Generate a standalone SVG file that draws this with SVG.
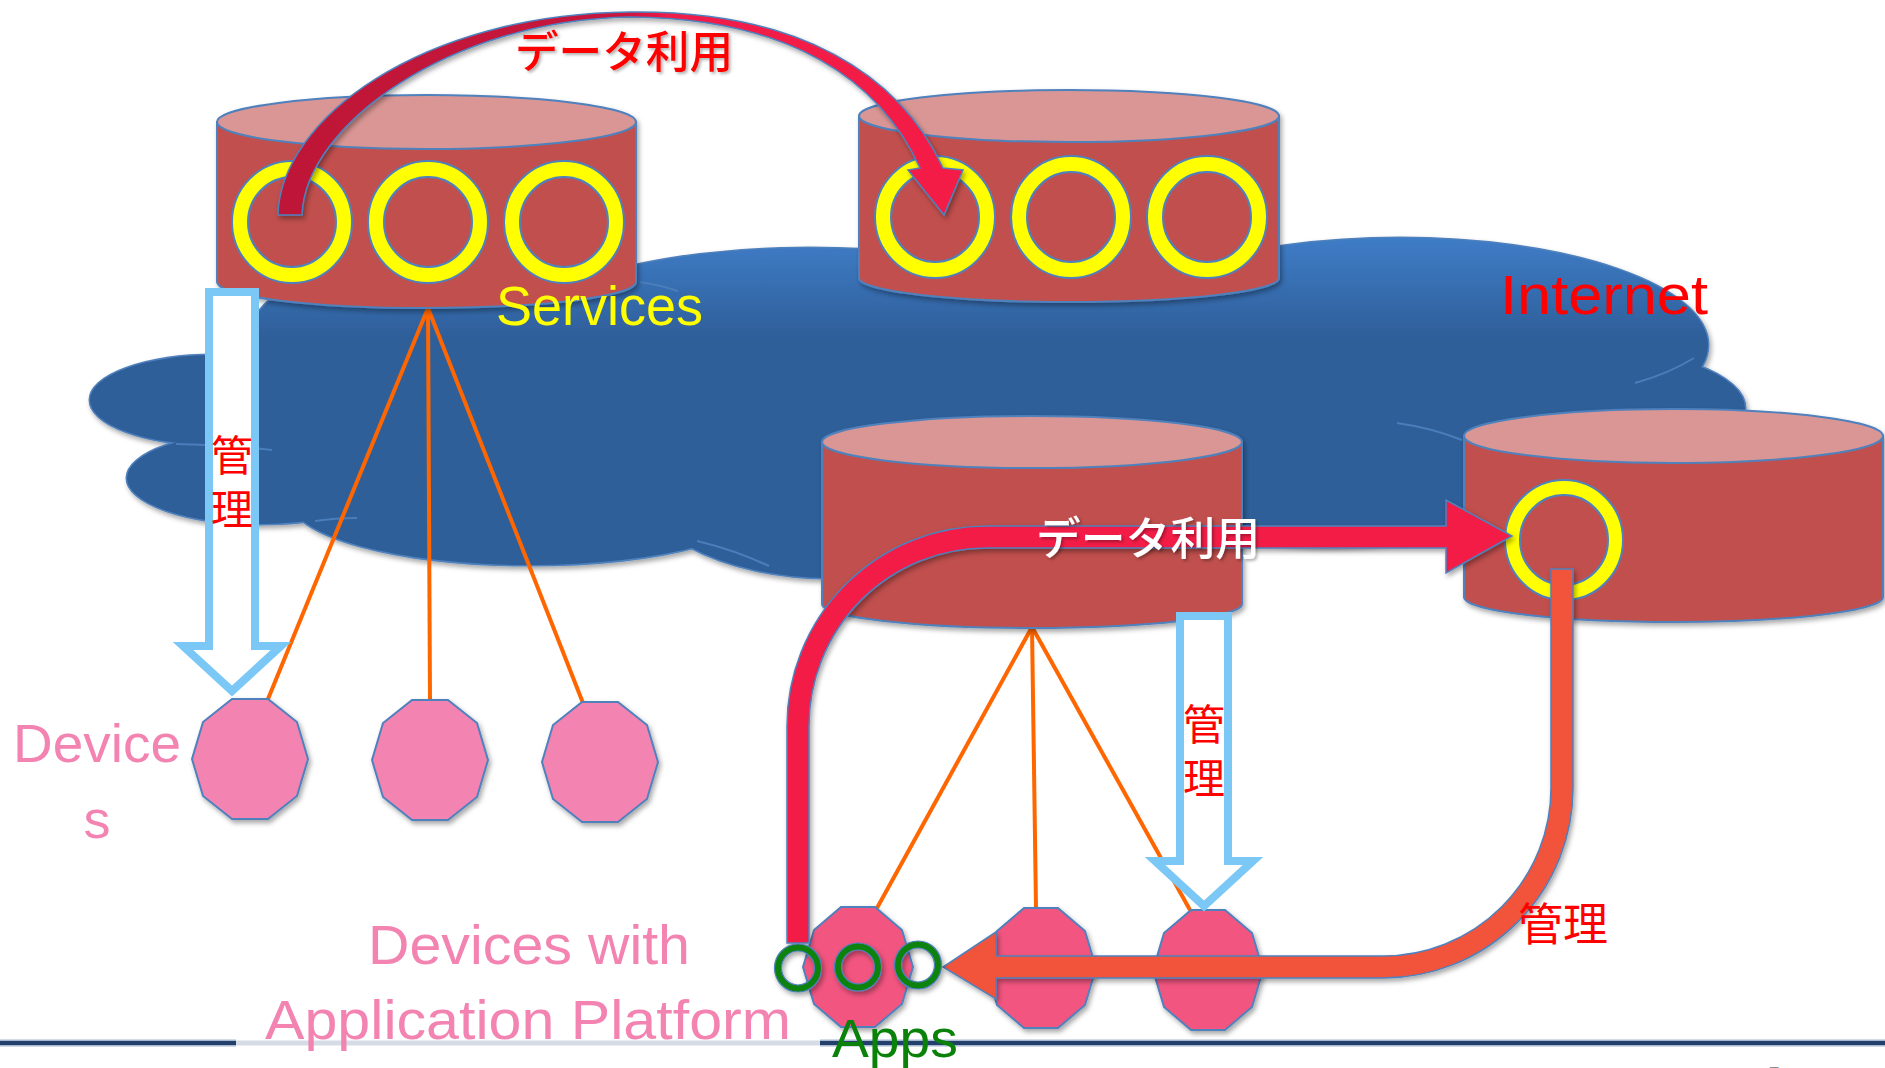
<svg xmlns="http://www.w3.org/2000/svg" width="1885" height="1068" viewBox="0 0 1885 1068">
<defs>
  <style>
    .cl-out{fill:none;stroke:#4F81BD;stroke-width:3}
    .cl-in{fill:url(#cloudGrad);stroke:none}
    .cl-seam{fill:none;stroke:#4A7EBB;stroke-width:2}
    .body{fill:#C0504D;stroke:#4F81BD;stroke-width:2}
    .top{fill:#D99694;stroke:#4F81BD;stroke-width:2}
    .ring{fill:#FFFF00;fill-rule:evenodd;stroke:#4F81BD;stroke-width:2}
    .gring{fill:#0A820A;fill-rule:evenodd;stroke:#4F81BD;stroke-width:1.2}
    .dev{fill:#F383B1;stroke:#4F81BD;stroke-width:2}
    .devp{fill:#F25580;stroke:#4F81BD;stroke-width:2}
    .ol{stroke:#FF6600;stroke-width:4;fill:none}
    .lb{fill:#FFFFFF;stroke:#7BC8F6;stroke-width:8;stroke-linejoin:miter}
    .lat{font-family:"Liberation Sans","Noto Sans",sans-serif}
    .jp{font-family:"Noto Sans CJK JP","Noto Sans CJK SC",sans-serif}
    .vt{writing-mode:vertical-rl;letter-spacing:12px}
  </style>
  <linearGradient id="cloudGrad" x1="0" y1="235" x2="0" y2="340" gradientUnits="userSpaceOnUse">
    <stop offset="0" stop-color="#3F7DC8"/>
    <stop offset="1" stop-color="#2E5E99"/>
  </linearGradient>
  <linearGradient id="arcGrad" x1="278" y1="0" x2="963" y2="0" gradientUnits="userSpaceOnUse">
    <stop offset="0" stop-color="#BE1238"/>
    <stop offset="0.5" stop-color="#C8153C"/>
    <stop offset="0.57" stop-color="#F01A48"/>
    <stop offset="1" stop-color="#F41B46"/>
  </linearGradient>
  <filter id="sh" x="-20%" y="-20%" width="140%" height="140%">
    <feDropShadow dx="2" dy="3" stdDeviation="2.5" flood-color="#000" flood-opacity="0.35"/>
  </filter>
  <filter id="tsh" x="-10%" y="-20%" width="120%" height="140%">
    <feDropShadow dx="2" dy="2" stdDeviation="1.5" flood-color="#000" flood-opacity="0.3"/>
  </filter>
  <polygon id="dec1" points="-18,-60 18,-60 47,-37 58,0 47,37 18,60 -18,60 -47,37 -58,0 -47,-37"/>
  <polygon id="dec2" points="-17,-60 17,-60 44,-37 55,0 44,37 17,60 -17,60 -44,37 -55,0 -44,-37"/>
</defs>

<rect width="1885" height="1068" fill="#FFFFFF"/>

<!-- Internet cloud -->
<g id="internet" filter="url(#sh)">
  <g class="cl-out">
    <ellipse cx="215" cy="400" rx="125" ry="45"/>
    <ellipse cx="260" cy="478" rx="133" ry="46"/>
    <ellipse cx="450" cy="335" rx="200" ry="80"/>
    <ellipse cx="530" cy="500" rx="240" ry="65"/>
    <ellipse cx="700" cy="400" rx="420" ry="130"/>
    <ellipse cx="830" cy="470" rx="200" ry="108"/>
    <ellipse cx="810" cy="340" rx="300" ry="92"/>
    <ellipse cx="1100" cy="385" rx="200" ry="112"/>
    <ellipse cx="1400" cy="345" rx="308" ry="107"/>
    <ellipse cx="1570" cy="408" rx="175" ry="62"/>
    <ellipse cx="1330" cy="460" rx="200" ry="85"/>
  </g>
  <g class="cl-in">
    <ellipse cx="215" cy="400" rx="125" ry="45"/>
    <ellipse cx="260" cy="478" rx="133" ry="46"/>
    <ellipse cx="450" cy="335" rx="200" ry="80"/>
    <ellipse cx="530" cy="500" rx="240" ry="65"/>
    <ellipse cx="700" cy="400" rx="420" ry="130"/>
    <ellipse cx="830" cy="470" rx="200" ry="108"/>
    <ellipse cx="810" cy="340" rx="300" ry="92"/>
    <ellipse cx="1100" cy="385" rx="200" ry="112"/>
    <ellipse cx="1400" cy="345" rx="308" ry="107"/>
    <ellipse cx="1570" cy="408" rx="175" ry="62"/>
    <ellipse cx="1330" cy="460" rx="200" ry="85"/>
  </g>
  <path class="cl-seam" d="M176,444 Q230,445 272,450 M315,521 Q335,518 357,518 M697,541 Q735,550 769,566 M1397,423 Q1432,428 1462,440 M1635,383 Q1668,374 1694,358 M640,282 Q660,285 678,291"/>
</g>

<!-- thin orange links -->
<g id="links">
  <line class="ol" x1="428" y1="308" x2="268" y2="699"/>
  <line class="ol" x1="428" y1="308" x2="430" y2="700"/>
  <line class="ol" x1="428" y1="308" x2="583" y2="703"/>
  <line class="ol" x1="1032" y1="627" x2="877" y2="908"/>
  <line class="ol" x1="1032" y1="627" x2="1036" y2="908"/>
  <line class="ol" x1="1032" y1="627" x2="1190" y2="910"/>
</g>

<!-- service cylinders -->
<g id="service1" filter="url(#sh)">
  <path class="body" d="M217,122 V282 A209.5,26 0 0 0 636,282 V122 Z"/>
  <ellipse class="top" cx="426.5" cy="122" rx="209.5" ry="27"/>
  <path class="ring" d="M352,222 a60,61 0 1 0 -120,0 a60,61 0 1 0 120,0 Z M336,222 a44,45 0 1 0 -88,0 a44,45 0 1 0 88,0 Z"/>
  <path class="ring" d="M488,222 a60,61 0 1 0 -120,0 a60,61 0 1 0 120,0 Z M472,222 a44,45 0 1 0 -88,0 a44,45 0 1 0 88,0 Z"/>
  <path class="ring" d="M624,222 a60,61 0 1 0 -120,0 a60,61 0 1 0 120,0 Z M608,222 a44,45 0 1 0 -88,0 a44,45 0 1 0 88,0 Z"/>
</g>
<g id="service2" filter="url(#sh)">
  <path class="body" d="M859,116 V278 A210,24 0 0 0 1279,278 V116 Z"/>
  <ellipse class="top" cx="1069" cy="116" rx="210" ry="26"/>
  <path class="ring" d="M995,217 a60,61 0 1 0 -120,0 a60,61 0 1 0 120,0 Z M979,217 a44,45 0 1 0 -88,0 a44,45 0 1 0 88,0 Z"/>
  <path class="ring" d="M1131,217 a60,61 0 1 0 -120,0 a60,61 0 1 0 120,0 Z M1115,217 a44,45 0 1 0 -88,0 a44,45 0 1 0 88,0 Z"/>
  <path class="ring" d="M1267,217 a60,61 0 1 0 -120,0 a60,61 0 1 0 120,0 Z M1251,217 a44,45 0 1 0 -88,0 a44,45 0 1 0 88,0 Z"/>
</g>
<g id="service3" filter="url(#sh)">
  <path class="body" d="M822,442 V604 A210,24 0 0 0 1242,604 V442 Z"/>
  <ellipse class="top" cx="1032" cy="442" rx="210" ry="26"/>
</g>
<g id="service4" filter="url(#sh)">
  <path class="body" d="M1464,436 V597 A209.5,25 0 0 0 1883,597 V436 Z"/>
  <ellipse class="top" cx="1673.5" cy="436" rx="209.5" ry="27"/>
  <path class="ring" d="M1623,540 a59,60 0 1 0 -118,0 a59,60 0 1 0 118,0 Z M1608,540 a44,45 0 1 0 -88,0 a44,45 0 1 0 88,0 Z"/>
</g>

<!-- devices -->
<g id="device1" filter="url(#sh)"><use href="#dec1" class="dev" x="250" y="759"/></g>
<g id="device2" filter="url(#sh)"><use href="#dec1" class="dev" x="430" y="760"/></g>
<g id="device3" filter="url(#sh)"><use href="#dec1" class="dev" x="600" y="762"/></g>

<!-- devices with application platform -->
<g id="appdevice1" filter="url(#sh)"><use href="#dec2" class="devp" x="858" y="967"/></g>
<g id="appdevice2" filter="url(#sh)"><use href="#dec2" class="devp" x="1041" y="968"/></g>
<g id="appdevice3" filter="url(#sh)"><use href="#dec2" class="devp" x="1208" y="970"/></g>

<!-- bottom rule -->
<g id="rule">
  <line x1="0" y1="1043" x2="236" y2="1043" stroke="#A8B8D0" stroke-width="7"/>
  <line x1="0" y1="1043" x2="236" y2="1043" stroke="#22406B" stroke-width="4"/>
  <line x1="236" y1="1043" x2="820" y2="1043" stroke="#D5DCE6" stroke-width="5"/>
  <line x1="820" y1="1043" x2="1885" y2="1043" stroke="#A8B8D0" stroke-width="7"/>
  <line x1="820" y1="1043" x2="1885" y2="1043" stroke="#22406B" stroke-width="4"/>
</g>

<!-- block arrows -->
<g id="connectors">
  <path filter="url(#sh)" fill="url(#arcGrad)" stroke="#4F81BD" stroke-width="1.5" d="M278,215 C280,120 420,14 630,12 C800,10 900,75 943,168 L963,170 L944,215 L908,170 L920,168 C880,80 790,18 630,17 C450,20 305,125 302,215 Z"/>
  <path class="lb" d="M209,292 H255 V646 H281 L232,691 L183,646 H209 Z"/>
  <path class="lb" d="M1180,616 H1228 V861 H1253 L1204,906 L1155,861 H1180 Z"/>
  <path filter="url(#sh)" fill="#F21A46" stroke="#4F81BD" stroke-width="1.5" d="M787,943 V726 A200,200 0 0 1 987,526 H1446 V500 L1512,536 L1446,573 V548 H987 A178,178 0 0 0 809,726 V943 Z"/>
  <path filter="url(#sh)" fill="#F2533A" stroke="#4F81BD" stroke-width="1.5" d="M1551,569 H1573 V788 A190,190 0 0 1 1383,978 H996 V999 L943,967 L996,932 V956 H1383 A168,168 0 0 0 1551,788 Z"/>
</g>

<!-- app rings -->
<g id="apps" filter="url(#sh)">
  <path class="gring" d="M821.5,968 a23.5,24 0 1 0 -47,0 a23.5,24 0 1 0 47,0 Z M814.5,968 a16.5,17 0 1 0 -33,0 a16.5,17 0 1 0 33,0 Z"/>
  <path class="gring" d="M881.5,967 a23.5,24 0 1 0 -47,0 a23.5,24 0 1 0 47,0 Z M874.5,967 a16.5,17 0 1 0 -33,0 a16.5,17 0 1 0 33,0 Z"/>
  <path class="gring" d="M941.5,965 a23.5,24 0 1 0 -47,0 a23.5,24 0 1 0 47,0 Z M934.5,965 a16.5,17 0 1 0 -33,0 a16.5,17 0 1 0 33,0 Z"/>
</g>

<!-- labels -->
<g id="labels">
  <text class="jp" x="515" y="68" font-size="44" font-weight="500" fill="#FF0000" textLength="218" lengthAdjust="spacingAndGlyphs" filter="url(#tsh)">データ利用</text>
  <text class="jp" x="1036" y="555" font-size="45" font-weight="500" fill="#FFFFFF" textLength="224" lengthAdjust="spacingAndGlyphs" filter="url(#tsh)">データ利用</text>
  <text class="jp vt" x="232" y="434" font-size="42" fill="#FF0000">管理</text>
  <text class="jp vt" x="1204" y="703" font-size="42" fill="#FF0000">管理</text>
  <text class="jp" x="1518" y="941" font-size="45" fill="#FF0000" textLength="90" lengthAdjust="spacingAndGlyphs">管理</text>
  <text class="lat" x="496" y="325" font-size="56" fill="#FFFF00" textLength="207" lengthAdjust="spacingAndGlyphs">Services</text>
  <text class="lat" x="1500" y="314" font-size="56" fill="#FF0000" textLength="208" lengthAdjust="spacingAndGlyphs">Internet</text>
  <text class="lat" x="13" y="762" font-size="54" fill="#F383B1" textLength="168" lengthAdjust="spacingAndGlyphs">Device</text>
  <text class="lat" x="97" y="838" font-size="54" fill="#F383B1" text-anchor="middle">s</text>
  <text class="lat" x="368" y="964" font-size="55" fill="#F383B1" textLength="322" lengthAdjust="spacingAndGlyphs">Devices with</text>
  <text class="lat" x="265" y="1039" font-size="55" fill="#F383B1" textLength="526" lengthAdjust="spacingAndGlyphs">Application Platform</text>
  <text class="lat" x="832" y="1057" font-size="54" fill="#0A820A" textLength="126" lengthAdjust="spacingAndGlyphs">Apps</text>
  <text class="lat" x="1768" y="1082" font-size="22" fill="#8A8A8A">5</text>
</g>
</svg>
